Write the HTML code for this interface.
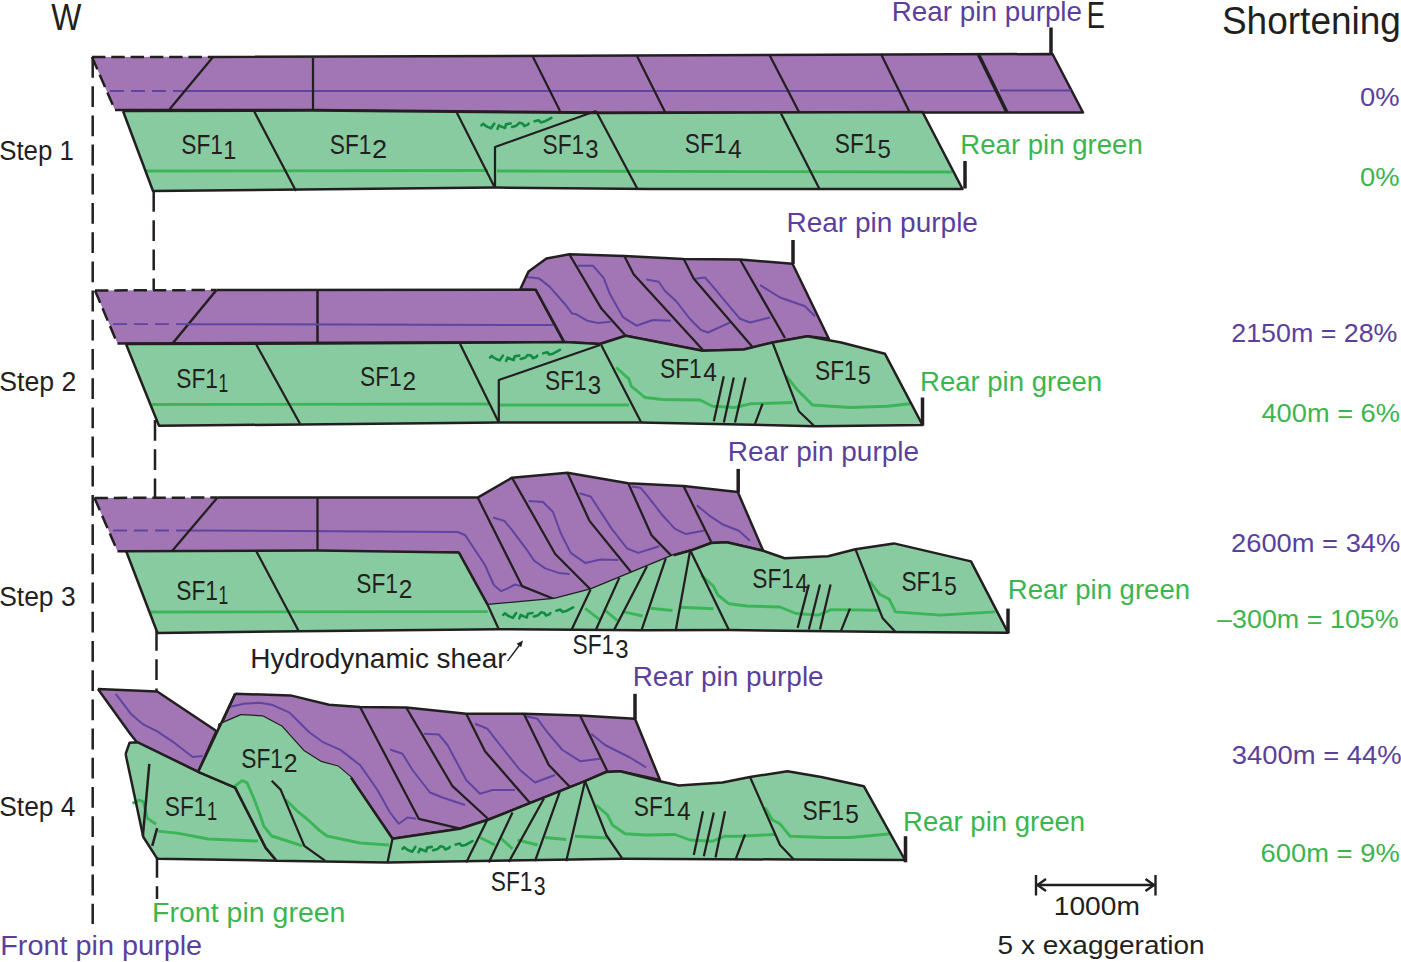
<!DOCTYPE html>
<html><head><meta charset="utf-8"><style>html,body{margin:0;padding:0;background:#fff;overflow:hidden}svg{display:block}</style></head>
<body><svg width="1401" height="962" viewBox="0 0 1401 962" font-family="Liberation Sans, sans-serif">
<rect width="1401" height="962" fill="#fff"/>
<polygon points="92.0,57.0 1052.5,54.0 1083.0,112.5 115.0,110.0" fill="#A275B5"/>
<polyline points="213.0,57.0 1052.5,54.0 1083.0,112.5 600.0,112.5 313.0,110.0 115.0,110.0" fill="none" stroke="#231F20" stroke-width="2.5" stroke-linejoin="round" stroke-linecap="butt"/>
<polyline points="92.0,57.0 213.0,57.0" fill="none" stroke="#231F20" stroke-width="2.5" stroke-linejoin="round" stroke-linecap="butt" stroke-dasharray="13.4,5.9"/>
<polyline points="92.0,57.0 115.0,110.0" fill="none" stroke="#231F20" stroke-width="2.5" stroke-linejoin="round" stroke-linecap="butt" stroke-dasharray="13.4,5.9"/>
<polyline points="110.0,91.0 183.0,91.0" fill="none" stroke="#5F44A0" stroke-width="1.8" stroke-linejoin="round" stroke-linecap="butt" stroke-dasharray="14,7"/>
<polyline points="183.0,91.0 996.0,91.0" fill="none" stroke="#5F44A0" stroke-width="2.0" stroke-linejoin="round" stroke-linecap="butt"/>
<polyline points="1000.0,90.5 1071.0,90.5" fill="none" stroke="#5F44A0" stroke-width="2.0" stroke-linejoin="round" stroke-linecap="butt"/>
<polyline points="213.0,57.0 169.0,110.0" fill="none" stroke="#231F20" stroke-width="2.25" stroke-linejoin="round" stroke-linecap="butt"/>
<polyline points="313.0,58.0 313.0,110.0" fill="none" stroke="#231F20" stroke-width="2.25" stroke-linejoin="round" stroke-linecap="butt"/>
<polyline points="532.5,56.0 560.0,111.0" fill="none" stroke="#231F20" stroke-width="2.25" stroke-linejoin="round" stroke-linecap="butt"/>
<polyline points="637.0,56.0 665.5,113.0" fill="none" stroke="#231F20" stroke-width="2.25" stroke-linejoin="round" stroke-linecap="butt"/>
<polyline points="769.5,55.0 799.0,112.0" fill="none" stroke="#231F20" stroke-width="2.25" stroke-linejoin="round" stroke-linecap="butt"/>
<polyline points="881.0,54.0 909.5,112.0" fill="none" stroke="#231F20" stroke-width="2.25" stroke-linejoin="round" stroke-linecap="butt"/>
<polyline points="978.5,54.5 1007.0,112.5" fill="none" stroke="#231F20" stroke-width="3.6" stroke-linejoin="round" stroke-linecap="butt"/>
<polygon points="123.0,111.0 313.0,110.5 600.0,113.0 922.5,112.0 962.5,189.0 650.0,189.0 495.0,187.5 153.0,191.0" fill="#88CBA0"/>
<polyline points="146.0,171.0 488.0,170.5" fill="none" stroke="#3BB557" stroke-width="2.9" stroke-linejoin="round" stroke-linecap="butt"/>
<polyline points="497.0,171.0 952.0,172.0" fill="none" stroke="#3BB557" stroke-width="2.9" stroke-linejoin="round" stroke-linecap="butt"/>
<polyline points="123.0,111.0 313.0,110.5 600.0,113.0 922.5,112.0 962.5,189.0 650.0,189.0 495.0,187.5 153.0,191.0 123.0,111.0" fill="none" stroke="#231F20" stroke-width="2.5" stroke-linejoin="round" stroke-linecap="butt"/>
<polyline points="254.0,111.0 296.0,191.0" fill="none" stroke="#231F20" stroke-width="2.25" stroke-linejoin="round" stroke-linecap="butt"/>
<polyline points="456.0,111.0 495.0,188.0" fill="none" stroke="#231F20" stroke-width="2.25" stroke-linejoin="round" stroke-linecap="butt"/>
<polyline points="495.0,188.0 495.0,147.0 596.0,111.0" fill="none" stroke="#231F20" stroke-width="2.25" stroke-linejoin="round" stroke-linecap="butt"/>
<polyline points="596.0,111.0 637.5,189.0" fill="none" stroke="#231F20" stroke-width="2.25" stroke-linejoin="round" stroke-linecap="butt"/>
<polyline points="781.0,113.5 819.5,189.0" fill="none" stroke="#231F20" stroke-width="2.25" stroke-linejoin="round" stroke-linecap="butt"/>
<polyline points="1051.0,27.5 1051.0,55.0" fill="none" stroke="#231F20" stroke-width="3.5" stroke-linejoin="round" stroke-linecap="butt"/>
<polyline points="965.0,161.0 965.0,188.5" fill="none" stroke="#231F20" stroke-width="3.5" stroke-linejoin="round" stroke-linecap="butt"/>
<polyline points="481.4,125.4 483.2,123.8 485.0,125.4 487.5,126.9 491.1,128.3 494.3,123.5" fill="none" stroke="#138C43" stroke-width="2.6" stroke-linejoin="round" stroke-linecap="round"/>
<polyline points="497.5,128.8 498.9,125.4 502.1,126.9 505.0,128.0 506.1,124.2 510.7,123.5" fill="none" stroke="#138C43" stroke-width="2.6" stroke-linejoin="round" stroke-linecap="round"/>
<polyline points="512.1,126.9 516.4,125.7 519.3,122.8 522.5,123.5 524.3,126.1 527.9,124.6 528.6,123.5" fill="none" stroke="#138C43" stroke-width="2.6" stroke-linejoin="round" stroke-linecap="round"/>
<polyline points="534.6,121.2 538.6,120.2 540.7,122.4 544.3,121.6 551.4,117.8" fill="none" stroke="#138C43" stroke-width="2.6" stroke-linejoin="round" stroke-linecap="round"/>
<polygon points="95.0,290.5 216.5,290.0 535.7,289.7 564.0,342.1 117.5,343.5" fill="#A275B5"/>
<polyline points="216.5,290.0 535.7,289.7 564.0,342.1 117.5,343.5" fill="none" stroke="#231F20" stroke-width="2.5" stroke-linejoin="round" stroke-linecap="butt"/>
<polyline points="95.0,290.5 216.5,290.0" fill="none" stroke="#231F20" stroke-width="2.5" stroke-linejoin="round" stroke-linecap="butt" stroke-dasharray="13.4,5.9"/>
<polyline points="95.0,290.5 117.5,343.8" fill="none" stroke="#231F20" stroke-width="2.5" stroke-linejoin="round" stroke-linecap="butt" stroke-dasharray="13.4,5.9"/>
<polyline points="216.5,290.0 172.5,343.5" fill="none" stroke="#231F20" stroke-width="2.5" stroke-linejoin="round" stroke-linecap="butt"/>
<polyline points="317.5,290.5 317.5,343.0" fill="none" stroke="#231F20" stroke-width="2.5" stroke-linejoin="round" stroke-linecap="butt"/>
<polyline points="113.0,324.2 187.0,324.2" fill="none" stroke="#5F44A0" stroke-width="1.8" stroke-linejoin="round" stroke-linecap="butt" stroke-dasharray="14,7"/>
<polyline points="187.0,324.2 555.0,325.0" fill="none" stroke="#5F44A0" stroke-width="2.0" stroke-linejoin="round" stroke-linecap="butt"/>
<polygon points="520.3,289.3 528.6,271.4 546.4,258.6 569.3,254.3 624.3,256.0 683.7,259.0 740.0,259.5 792.5,263.8 828.8,338.8 807.5,336.2 772.5,342.5 743.8,349.5 702.5,350.8 625.7,335.7 600.0,344.0 564.3,342.1 535.7,289.7" fill="#A275B5"/>
<polyline points="527.0,277.1 539.3,278.6 549.3,286.4 565.7,305.0 572.1,313.6 576.4,314.3 587.1,320.7 597.9,322.9 610.7,321.7" fill="none" stroke="#5F44A0" stroke-width="2.0" stroke-linejoin="round" stroke-linecap="butt"/>
<polyline points="577.9,265.7 592.9,265.7 603.6,277.9 610.0,294.3 622.9,317.1 636.4,325.7 652.9,320.0 670.7,320.7" fill="none" stroke="#5F44A0" stroke-width="2.0" stroke-linejoin="round" stroke-linecap="butt"/>
<polyline points="646.3,279.4 658.7,281.7 665.0,291.0 676.0,301.0 690.0,319.0 701.0,330.0 708.0,332.5 730.0,322.5" fill="none" stroke="#5F44A0" stroke-width="2.0" stroke-linejoin="round" stroke-linecap="butt"/>
<polyline points="695.0,278.8 705.0,277.5 712.5,286.2 740.0,318.8 750.0,322.5 770.0,317.5" fill="none" stroke="#5F44A0" stroke-width="2.0" stroke-linejoin="round" stroke-linecap="butt"/>
<polyline points="760.0,285.0 780.0,297.5 805.0,306.2 815.0,316.2" fill="none" stroke="#5F44A0" stroke-width="2.0" stroke-linejoin="round" stroke-linecap="butt"/>
<polyline points="520.3,289.3 528.6,271.4 546.4,258.6 569.3,254.3 624.3,256.0 683.7,259.0 740.0,259.5 792.5,263.8 828.8,338.8 807.5,336.2 772.5,342.5 743.8,349.5 702.5,350.8 625.7,335.7 600.0,344.0 564.3,342.1 535.7,289.7 520.3,289.3" fill="none" stroke="#231F20" stroke-width="2.5" stroke-linejoin="round" stroke-linecap="butt"/>
<polyline points="569.3,254.3 601.4,308.6 625.0,335.0" fill="none" stroke="#231F20" stroke-width="2.25" stroke-linejoin="round" stroke-linecap="butt"/>
<polyline points="624.3,256.0 633.6,274.3 702.9,350.0" fill="none" stroke="#231F20" stroke-width="2.25" stroke-linejoin="round" stroke-linecap="butt"/>
<polyline points="683.7,259.0 693.8,278.8 752.5,347.0" fill="none" stroke="#231F20" stroke-width="2.25" stroke-linejoin="round" stroke-linecap="butt"/>
<polyline points="740.0,259.5 785.0,338.0" fill="none" stroke="#231F20" stroke-width="2.25" stroke-linejoin="round" stroke-linecap="butt"/>
<polygon points="126.0,344.0 317.5,343.5 564.3,342.1 600.0,344.0 625.7,335.7 702.5,350.8 743.8,349.5 772.5,342.5 807.5,336.2 841.2,342.5 885.0,353.8 922.5,425.0 815.0,426.2 640.0,422.5 498.8,422.5 159.0,425.8" fill="#88CBA0"/>
<polyline points="152.0,404.5 489.0,404.0" fill="none" stroke="#3BB557" stroke-width="2.9" stroke-linejoin="round" stroke-linecap="butt"/>
<polyline points="499.0,405.0 629.0,405.0" fill="none" stroke="#3BB557" stroke-width="2.9" stroke-linejoin="round" stroke-linecap="butt"/>
<polyline points="616.2,367.5 628.8,378.8 631.2,386.2 645.0,397.5 662.5,399.5 700.0,400.0 712.5,406.2 735.0,407.5 750.0,403.8 792.5,402.5" fill="none" stroke="#3BB557" stroke-width="2.9" stroke-linejoin="round" stroke-linecap="butt"/>
<polyline points="786.2,376.2 797.5,390.0 805.0,397.5 812.5,405.0 850.0,407.5 887.5,406.2 910.0,403.8" fill="none" stroke="#3BB557" stroke-width="2.9" stroke-linejoin="round" stroke-linecap="butt"/>
<polyline points="126.0,344.0 317.5,343.5 564.3,342.1 600.0,344.0 625.7,335.7 702.5,350.8 743.8,349.5 772.5,342.5 807.5,336.2 841.2,342.5 885.0,353.8 922.5,425.0 815.0,426.2 640.0,422.5 498.8,422.5 159.0,425.8 126.0,344.0" fill="none" stroke="#231F20" stroke-width="2.5" stroke-linejoin="round" stroke-linecap="butt"/>
<polyline points="256.0,344.0 300.0,423.8" fill="none" stroke="#231F20" stroke-width="2.25" stroke-linejoin="round" stroke-linecap="butt"/>
<polyline points="460.0,343.8 498.8,422.5" fill="none" stroke="#231F20" stroke-width="2.25" stroke-linejoin="round" stroke-linecap="butt"/>
<polyline points="498.8,422.5 498.8,380.0 600.0,345.0" fill="none" stroke="#231F20" stroke-width="2.25" stroke-linejoin="round" stroke-linecap="butt"/>
<polyline points="601.2,345.0 641.2,422.5" fill="none" stroke="#231F20" stroke-width="2.25" stroke-linejoin="round" stroke-linecap="butt"/>
<polyline points="772.5,342.5 798.8,411.2 813.8,425.5" fill="none" stroke="#231F20" stroke-width="2.25" stroke-linejoin="round" stroke-linecap="butt"/>
<polyline points="723.8,376.2 713.8,421.2" fill="none" stroke="#231F20" stroke-width="2.25" stroke-linejoin="round" stroke-linecap="butt"/>
<polyline points="733.8,377.5 723.8,422.5" fill="none" stroke="#231F20" stroke-width="2.25" stroke-linejoin="round" stroke-linecap="butt"/>
<polyline points="745.5,377.5 735.0,422.5" fill="none" stroke="#231F20" stroke-width="2.25" stroke-linejoin="round" stroke-linecap="butt"/>
<polyline points="762.5,403.8 755.0,423.8" fill="none" stroke="#231F20" stroke-width="2.25" stroke-linejoin="round" stroke-linecap="butt"/>
<polyline points="490.0,357.5 491.8,355.9 493.6,357.5 496.1,359.0 499.7,360.4 502.9,355.6" fill="none" stroke="#138C43" stroke-width="2.6" stroke-linejoin="round" stroke-linecap="round"/>
<polyline points="506.1,360.9 507.5,357.5 510.7,359.0 513.6,360.1 514.7,356.3 519.3,355.6" fill="none" stroke="#138C43" stroke-width="2.6" stroke-linejoin="round" stroke-linecap="round"/>
<polyline points="520.7,359.0 525.0,357.8 527.9,354.9 531.1,355.6 532.9,358.2 536.5,356.7 537.2,355.6" fill="none" stroke="#138C43" stroke-width="2.6" stroke-linejoin="round" stroke-linecap="round"/>
<polyline points="543.2,353.3 547.2,352.2 549.3,354.5 552.9,353.7 560.0,349.9" fill="none" stroke="#138C43" stroke-width="2.6" stroke-linejoin="round" stroke-linecap="round"/>
<polyline points="793.0,240.0 793.0,264.0" fill="none" stroke="#231F20" stroke-width="3.5" stroke-linejoin="round" stroke-linecap="butt"/>
<polyline points="922.5,397.5 922.5,425.5" fill="none" stroke="#231F20" stroke-width="3.5" stroke-linejoin="round" stroke-linecap="butt"/>
<polygon points="94.5,498.0 217.5,497.5 477.7,497.6 512.0,477.7 567.4,472.8 628.2,483.2 683.5,486.1 737.8,492.1 763.2,550.7 726.7,542.3 711.2,543.0 691.3,550.3 673.6,555.2 590.6,589.5 554.1,599.0 487.7,605.0 458.8,552.5 117.5,551.2" fill="#A275B5"/>
<polyline points="113.0,530.5 190.0,530.5" fill="none" stroke="#5F44A0" stroke-width="1.8" stroke-linejoin="round" stroke-linecap="butt" stroke-dasharray="14,7"/>
<polyline points="190.0,530.5 457.5,532.0 465.0,535.0 475.0,550.0 485.0,565.0 493.8,585.0 501.2,591.2 508.7,587.9 515.0,584.5 520.9,586.1" fill="none" stroke="#5F44A0" stroke-width="2.0" stroke-linejoin="round" stroke-linecap="butt"/>
<polyline points="493.2,517.5 504.3,520.9 510.9,528.6 527.5,550.7 534.2,560.7 545.2,568.4 558.5,572.9 569.6,574.0" fill="none" stroke="#5F44A0" stroke-width="2.0" stroke-linejoin="round" stroke-linecap="butt"/>
<polyline points="528.6,500.9 543.0,502.0 553.0,512.0 560.7,533.0 570.7,552.9 585.1,562.9 600.6,559.6 618.3,560.0" fill="none" stroke="#5F44A0" stroke-width="2.0" stroke-linejoin="round" stroke-linecap="butt"/>
<polyline points="579.5,493.2 590.6,496.5 597.2,506.5 611.6,528.6 627.1,548.5 638.2,552.9 659.2,546.3" fill="none" stroke="#5F44A0" stroke-width="2.0" stroke-linejoin="round" stroke-linecap="butt"/>
<polyline points="631.5,486.6 640.4,487.7 647.0,495.4 662.5,515.3 674.7,528.6 685.8,534.1 704.6,530.4" fill="none" stroke="#5F44A0" stroke-width="2.0" stroke-linejoin="round" stroke-linecap="butt"/>
<polyline points="696.8,505.4 709.0,515.3 722.3,524.2 738.9,530.8 749.9,540.8" fill="none" stroke="#5F44A0" stroke-width="2.0" stroke-linejoin="round" stroke-linecap="butt"/>
<polyline points="217.5,497.5 477.7,497.6 512.0,477.7 567.4,472.8 628.2,483.2 683.5,486.1 737.8,492.1 763.2,550.7 726.7,542.3 711.2,543.0 691.3,550.3 673.6,555.2 590.6,589.5 554.1,599.0 487.7,605.0 458.8,552.5 117.5,551.2" fill="none" stroke="#231F20" stroke-width="2.5" stroke-linejoin="round" stroke-linecap="butt"/>
<polyline points="94.5,498.0 217.5,497.5" fill="none" stroke="#231F20" stroke-width="2.5" stroke-linejoin="round" stroke-linecap="butt" stroke-dasharray="13.4,5.9"/>
<polyline points="94.5,498.0 117.5,551.2" fill="none" stroke="#231F20" stroke-width="2.5" stroke-linejoin="round" stroke-linecap="butt" stroke-dasharray="13.4,5.9"/>
<polyline points="217.5,497.5 172.5,550.5" fill="none" stroke="#231F20" stroke-width="2.25" stroke-linejoin="round" stroke-linecap="butt"/>
<polyline points="317.5,498.0 317.5,550.5" fill="none" stroke="#231F20" stroke-width="2.25" stroke-linejoin="round" stroke-linecap="butt"/>
<polyline points="477.7,497.6 522.0,586.1 554.1,599.0" fill="none" stroke="#231F20" stroke-width="2.25" stroke-linejoin="round" stroke-linecap="butt"/>
<polyline points="512.0,477.7 555.2,554.0 590.6,589.5" fill="none" stroke="#231F20" stroke-width="2.25" stroke-linejoin="round" stroke-linecap="butt"/>
<polyline points="567.4,472.8 589.5,520.9 632.6,574.0" fill="none" stroke="#231F20" stroke-width="2.25" stroke-linejoin="round" stroke-linecap="butt"/>
<polyline points="628.2,483.2 651.5,535.2 672.5,556.9" fill="none" stroke="#231F20" stroke-width="2.25" stroke-linejoin="round" stroke-linecap="butt"/>
<polyline points="683.5,486.1 711.2,541.9" fill="none" stroke="#231F20" stroke-width="2.25" stroke-linejoin="round" stroke-linecap="butt"/>
<polygon points="126.2,551.2 317.5,550.5 458.8,552.5 487.7,605.0 554.1,599.0 590.6,589.5 673.6,555.2 691.3,550.3 711.2,543.0 726.7,542.3 763.2,550.7 784.7,558.2 828.1,556.3 855.4,549.2 893.9,543.4 971.0,561.4 1008.0,632.7 895.5,632.1 728.9,630.0 641.8,630.2 498.8,629.3 298.8,631.2 157.5,633.0" fill="#88CBA0"/>
<polyline points="151.0,612.0 487.7,611.6" fill="none" stroke="#3BB557" stroke-width="2.9" stroke-linejoin="round" stroke-linecap="butt"/>
<polyline points="585.1,608.3 599.5,619.3" fill="none" stroke="#3BB557" stroke-width="2.9" stroke-linejoin="round" stroke-linecap="butt"/>
<polyline points="603.9,609.4 617.2,620.4" fill="none" stroke="#3BB557" stroke-width="2.9" stroke-linejoin="round" stroke-linecap="butt"/>
<polyline points="622.7,611.6 642.6,616.0" fill="none" stroke="#3BB557" stroke-width="2.9" stroke-linejoin="round" stroke-linecap="butt"/>
<polyline points="650.4,608.3 672.5,610.5" fill="none" stroke="#3BB557" stroke-width="2.9" stroke-linejoin="round" stroke-linecap="butt"/>
<polyline points="680.2,607.2 713.4,608.7" fill="none" stroke="#3BB557" stroke-width="2.9" stroke-linejoin="round" stroke-linecap="butt"/>
<polyline points="701.2,575.1 713.4,586.1 717.8,595.0 728.9,603.8 746.6,606.0 779.9,607.0 795.9,613.5 818.4,615.1 831.3,609.6 879.5,610.3" fill="none" stroke="#3BB557" stroke-width="2.9" stroke-linejoin="round" stroke-linecap="butt"/>
<polyline points="869.8,581.3 879.5,594.2 889.1,599.0 895.5,611.9 940.5,615.1 995.1,611.9" fill="none" stroke="#3BB557" stroke-width="2.9" stroke-linejoin="round" stroke-linecap="butt"/>
<polyline points="673.6,555.2 691.3,550.3 711.2,543.0 726.7,542.3 763.2,550.7 784.7,558.2 828.1,556.3 855.4,549.2 893.9,543.4 971.0,561.4 1008.0,632.7 895.5,632.1 728.9,630.0 641.8,630.2 498.8,629.3 298.8,631.2 157.5,633.0 126.2,551.2 317.5,550.5 458.8,552.5" fill="none" stroke="#231F20" stroke-width="2.5" stroke-linejoin="round" stroke-linecap="butt"/>
<polyline points="458.8,552.5 487.7,605.0" fill="none" stroke="#231F20" stroke-width="2.5" stroke-linejoin="round" stroke-linecap="butt"/>
<polyline points="256.2,551.0 298.8,631.2" fill="none" stroke="#231F20" stroke-width="2.25" stroke-linejoin="round" stroke-linecap="butt"/>
<polyline points="487.7,605.0 498.8,629.3" fill="none" stroke="#231F20" stroke-width="2.25" stroke-linejoin="round" stroke-linecap="butt"/>
<polyline points="590.6,589.5 571.8,629.3" fill="none" stroke="#231F20" stroke-width="2.25" stroke-linejoin="round" stroke-linecap="butt"/>
<polyline points="619.4,577.6 596.1,629.3" fill="none" stroke="#231F20" stroke-width="2.25" stroke-linejoin="round" stroke-linecap="butt"/>
<polyline points="647.0,566.2 613.8,630.4" fill="none" stroke="#231F20" stroke-width="2.25" stroke-linejoin="round" stroke-linecap="butt"/>
<polyline points="665.8,558.4 641.5,630.4" fill="none" stroke="#231F20" stroke-width="2.25" stroke-linejoin="round" stroke-linecap="butt"/>
<polyline points="690.2,550.3 675.8,630.0" fill="none" stroke="#231F20" stroke-width="2.25" stroke-linejoin="round" stroke-linecap="butt"/>
<polyline points="690.2,550.3 728.9,630.0" fill="none" stroke="#231F20" stroke-width="2.25" stroke-linejoin="round" stroke-linecap="butt"/>
<polyline points="855.4,549.2 882.7,618.3 895.5,632.1" fill="none" stroke="#231F20" stroke-width="2.25" stroke-linejoin="round" stroke-linecap="butt"/>
<polyline points="808.8,584.6 797.6,627.9" fill="none" stroke="#231F20" stroke-width="2.25" stroke-linejoin="round" stroke-linecap="butt"/>
<polyline points="820.0,584.6 808.8,629.5" fill="none" stroke="#231F20" stroke-width="2.25" stroke-linejoin="round" stroke-linecap="butt"/>
<polyline points="830.6,584.6 820.0,629.5" fill="none" stroke="#231F20" stroke-width="2.25" stroke-linejoin="round" stroke-linecap="butt"/>
<polyline points="849.9,608.6 840.9,631.1" fill="none" stroke="#231F20" stroke-width="2.25" stroke-linejoin="round" stroke-linecap="butt"/>
<polyline points="503.2,614.9 505.0,613.3 506.8,614.9 509.3,616.4 512.9,617.8 516.1,613.0" fill="none" stroke="#138C43" stroke-width="2.6" stroke-linejoin="round" stroke-linecap="round"/>
<polyline points="519.3,618.3 520.7,614.9 523.9,616.4 526.8,617.5 527.9,613.7 532.5,613.0" fill="none" stroke="#138C43" stroke-width="2.6" stroke-linejoin="round" stroke-linecap="round"/>
<polyline points="533.9,616.4 538.2,615.2 541.1,612.3 544.3,613.0 546.1,615.6 549.7,614.1 550.4,613.0" fill="none" stroke="#138C43" stroke-width="2.6" stroke-linejoin="round" stroke-linecap="round"/>
<polyline points="556.4,610.7 560.4,609.6 562.5,611.9 566.1,611.1 573.2,607.3" fill="none" stroke="#138C43" stroke-width="2.6" stroke-linejoin="round" stroke-linecap="round"/>
<polyline points="738.2,468.9 738.2,492.5" fill="none" stroke="#231F20" stroke-width="3.5" stroke-linejoin="round" stroke-linecap="butt"/>
<polyline points="1008.0,608.6 1008.0,633.2" fill="none" stroke="#231F20" stroke-width="3.5" stroke-linejoin="round" stroke-linecap="butt"/>
<polyline points="507.5,661.2 521.5,642.5" fill="none" stroke="#231F20" stroke-width="1.4" stroke-linejoin="round" stroke-linecap="butt"/>
<polygon points="523,640.5 516.5,643.8 521.2,647.2" fill="#231F20"/>
<polygon points="97.9,688.9 157.2,691.5 216.4,731.0 198.2,771.8 137.4,742.8 130.5,734.3" fill="#A275B5"/>
<polyline points="115.7,693.8 131.5,714.6 143.3,724.4 157.2,731.4 174.9,743.2 192.7,757.0 202.6,756.0" fill="none" stroke="#5F44A0" stroke-width="2.0" stroke-linejoin="round" stroke-linecap="butt"/>
<polyline points="97.9,688.9 157.2,691.5 216.4,731.0 198.2,771.8 137.4,742.8 130.5,734.3 97.9,688.9" fill="none" stroke="#231F20" stroke-width="2.5" stroke-linejoin="round" stroke-linecap="butt"/>
<polygon points="235.2,693.8 290.5,695.4 329.0,704.7 360.0,707.0 406.2,707.5 466.2,713.8 523.8,713.8 580.0,715.5 635.0,718.8 660.0,780.0 620.0,771.2 606.2,772.0 585.0,781.2 488.8,819.5 460.0,828.8 392.5,838.8 351.0,777.6 338.0,766.6 321.0,762.0 303.6,751.0 281.6,726.6 262.8,716.5 241.1,715.2 219.4,724.4 218.4,730.4" fill="#A275B5"/>
<polyline points="230.2,706.7 244.1,703.7 259.9,702.7 271.7,704.7 289.5,712.6 299.4,722.5 309.2,732.3 323.1,742.2 340.8,750.1 360.0,765.0 377.5,790.0 390.0,812.5 398.8,823.8 407.5,817.5 416.2,818.8" fill="none" stroke="#5F44A0" stroke-width="2.0" stroke-linejoin="round" stroke-linecap="butt"/>
<polyline points="390.0,749.5 402.5,753.8 412.5,770.0 430.0,792.5 442.5,797.5 465.0,805.0" fill="none" stroke="#5F44A0" stroke-width="2.0" stroke-linejoin="round" stroke-linecap="butt"/>
<polyline points="423.8,733.8 438.8,734.5 447.5,745.0 466.2,780.0 480.0,793.8 492.5,790.0 515.0,790.0" fill="none" stroke="#5F44A0" stroke-width="2.0" stroke-linejoin="round" stroke-linecap="butt"/>
<polyline points="475.0,723.8 487.5,728.8 500.0,745.0 520.0,770.0 535.0,782.5 555.0,775.0" fill="none" stroke="#5F44A0" stroke-width="2.0" stroke-linejoin="round" stroke-linecap="butt"/>
<polyline points="526.2,716.2 537.5,718.8 547.5,732.5 562.5,750.0 580.0,761.2 600.0,758.8" fill="none" stroke="#5F44A0" stroke-width="2.0" stroke-linejoin="round" stroke-linecap="butt"/>
<polyline points="591.2,733.8 605.0,745.0 630.0,757.5 646.2,767.5" fill="none" stroke="#5F44A0" stroke-width="2.0" stroke-linejoin="round" stroke-linecap="butt"/>
<polyline points="235.2,693.8 290.5,695.4 329.0,704.7 360.0,707.0 406.2,707.5 466.2,713.8 523.8,713.8 580.0,715.5 635.0,718.8 660.0,780.0 620.0,771.2 606.2,772.0 585.0,781.2 488.8,819.5 460.0,828.8 392.5,838.8 351.0,777.6 338.0,766.6 321.0,762.0 303.6,751.0 281.6,726.6 262.8,716.5 241.1,715.2 219.4,724.4 218.4,730.4 235.2,693.8" fill="none" stroke="#231F20" stroke-width="2.5" stroke-linejoin="round" stroke-linecap="butt"/>
<polyline points="360.0,707.0 418.8,818.8 461.2,828.8" fill="none" stroke="#231F20" stroke-width="2.25" stroke-linejoin="round" stroke-linecap="butt"/>
<polyline points="406.2,707.5 452.5,786.2 488.8,819.5" fill="none" stroke="#231F20" stroke-width="2.25" stroke-linejoin="round" stroke-linecap="butt"/>
<polyline points="466.2,713.8 485.0,751.2 530.0,803.0" fill="none" stroke="#231F20" stroke-width="2.25" stroke-linejoin="round" stroke-linecap="butt"/>
<polyline points="523.8,713.8 548.8,765.0 570.0,787.0" fill="none" stroke="#231F20" stroke-width="2.25" stroke-linejoin="round" stroke-linecap="butt"/>
<polyline points="580.0,715.5 607.5,771.5" fill="none" stroke="#231F20" stroke-width="2.25" stroke-linejoin="round" stroke-linecap="butt"/>
<polygon points="125.6,754.1 129.5,742.8 137.4,742.2 198.2,771.8 235.2,787.6 265.8,847.9 276.6,860.7 157.2,858.7 143.3,837.0" fill="#88CBA0"/>
<polyline points="132.5,803.4 139.4,800.1 143.3,801.5 147.3,818.3 156.2,824.2" fill="none" stroke="#3BB557" stroke-width="2.9" stroke-linejoin="round" stroke-linecap="butt"/>
<polyline points="158.1,831.1 176.9,833.1 208.5,839.0 232.2,840.0 257.9,841.0" fill="none" stroke="#3BB557" stroke-width="2.9" stroke-linejoin="round" stroke-linecap="butt"/>
<polyline points="125.6,754.1 129.5,742.8 137.4,742.2 198.2,771.8 235.2,787.6 265.8,847.9 276.6,860.7 157.2,858.7 143.3,837.0 125.6,754.1" fill="none" stroke="#231F20" stroke-width="2.5" stroke-linejoin="round" stroke-linecap="butt"/>
<polyline points="149.3,763.9 142.9,836.0" fill="none" stroke="#231F20" stroke-width="2.5" stroke-linejoin="round" stroke-linecap="butt"/>
<polyline points="157.2,828.1 152.2,845.9" fill="none" stroke="#231F20" stroke-width="2.5" stroke-linejoin="round" stroke-linecap="butt"/>
<polygon points="198.2,771.8 218.4,730.4 219.4,724.4 241.1,715.2 262.8,716.5 281.6,726.6 303.6,751.0 321.0,762.0 338.0,766.6 351.0,777.6 392.5,838.8 460.0,828.8 488.8,819.5 585.0,781.2 606.2,772.0 620.0,771.2 660.0,781.2 678.8,785.5 722.5,782.5 750.0,777.0 787.5,771.2 821.2,777.0 863.8,786.2 905.0,860.0 792.5,859.5 622.5,858.8 387.5,862.5 276.6,860.7 265.8,847.9 235.2,787.6" fill="#88CBA0"/>
<polyline points="234.2,786.7 242.1,780.7 247.0,782.7 253.9,798.5 259.9,814.3 263.8,826.2 271.7,836.0 287.5,841.0 302.3,845.9" fill="none" stroke="#3BB557" stroke-width="2.9" stroke-linejoin="round" stroke-linecap="butt"/>
<polyline points="285.5,799.5 297.4,811.3 307.3,819.2 319.1,830.1 327.0,836.0 360.0,843.0 388.8,845.0" fill="none" stroke="#3BB557" stroke-width="2.9" stroke-linejoin="round" stroke-linecap="butt"/>
<polyline points="480.0,837.5 495.0,845.0" fill="none" stroke="#3BB557" stroke-width="2.9" stroke-linejoin="round" stroke-linecap="butt"/>
<polyline points="500.0,837.5 512.5,848.8" fill="none" stroke="#3BB557" stroke-width="2.9" stroke-linejoin="round" stroke-linecap="butt"/>
<polyline points="517.5,840.0 537.5,845.0" fill="none" stroke="#3BB557" stroke-width="2.9" stroke-linejoin="round" stroke-linecap="butt"/>
<polyline points="545.0,837.5 566.2,839.5" fill="none" stroke="#3BB557" stroke-width="2.9" stroke-linejoin="round" stroke-linecap="butt"/>
<polyline points="575.0,836.2 607.5,838.0" fill="none" stroke="#3BB557" stroke-width="2.9" stroke-linejoin="round" stroke-linecap="butt"/>
<polyline points="596.2,805.0 607.5,815.0 612.5,825.0 625.0,833.8 645.0,835.0 675.0,834.5 690.0,840.0 712.5,841.2 725.0,836.2 740.0,836.2 775.0,834.5" fill="none" stroke="#3BB557" stroke-width="2.9" stroke-linejoin="round" stroke-linecap="butt"/>
<polyline points="765.0,807.5 772.5,820.0 780.0,823.8 790.0,836.2 825.0,837.5 850.0,837.5 891.2,833.8" fill="none" stroke="#3BB557" stroke-width="2.9" stroke-linejoin="round" stroke-linecap="butt"/>
<polyline points="351.0,777.6 392.5,838.8 460.0,828.8 488.8,819.5 585.0,781.2 606.2,772.0 620.0,771.2 660.0,781.2 678.8,785.5 722.5,782.5 750.0,777.0 787.5,771.2 821.2,777.0 863.8,786.2 905.0,860.0 792.5,859.5 622.5,858.8 387.5,862.5 276.6,860.7 265.8,847.9 235.2,787.6 198.2,771.8" fill="none" stroke="#231F20" stroke-width="2.5" stroke-linejoin="round" stroke-linecap="butt"/>
<polyline points="235.2,693.8 198.2,771.8" fill="none" stroke="#231F20" stroke-width="2.5" stroke-linejoin="round" stroke-linecap="butt"/>
<polyline points="392.5,838.8 387.5,862.5" fill="none" stroke="#231F20" stroke-width="2.25" stroke-linejoin="round" stroke-linecap="butt"/>
<polyline points="487.5,819.5 466.2,862.5" fill="none" stroke="#231F20" stroke-width="2.25" stroke-linejoin="round" stroke-linecap="butt"/>
<polyline points="512.5,812.5 488.8,862.5" fill="none" stroke="#231F20" stroke-width="2.25" stroke-linejoin="round" stroke-linecap="butt"/>
<polyline points="543.8,798.8 508.8,862.0" fill="none" stroke="#231F20" stroke-width="2.25" stroke-linejoin="round" stroke-linecap="butt"/>
<polyline points="560.0,791.2 535.0,861.2" fill="none" stroke="#231F20" stroke-width="2.25" stroke-linejoin="round" stroke-linecap="butt"/>
<polyline points="585.0,781.2 566.2,861.2" fill="none" stroke="#231F20" stroke-width="2.25" stroke-linejoin="round" stroke-linecap="butt"/>
<polyline points="585.0,781.2 606.2,835.0 622.5,858.8" fill="none" stroke="#231F20" stroke-width="2.25" stroke-linejoin="round" stroke-linecap="butt"/>
<polyline points="750.0,777.0 780.0,845.0 793.8,859.5" fill="none" stroke="#231F20" stroke-width="2.25" stroke-linejoin="round" stroke-linecap="butt"/>
<polyline points="703.0,811.2 693.8,855.0" fill="none" stroke="#231F20" stroke-width="2.25" stroke-linejoin="round" stroke-linecap="butt"/>
<polyline points="713.8,812.5 703.8,856.2" fill="none" stroke="#231F20" stroke-width="2.25" stroke-linejoin="round" stroke-linecap="butt"/>
<polyline points="725.0,811.2 715.5,857.5" fill="none" stroke="#231F20" stroke-width="2.25" stroke-linejoin="round" stroke-linecap="butt"/>
<polyline points="745.0,834.5 735.8,858.8" fill="none" stroke="#231F20" stroke-width="2.25" stroke-linejoin="round" stroke-linecap="butt"/>
<polyline points="271.7,780.7 280.6,789.6 304.3,845.9 325.0,860.7" fill="none" stroke="#231F20" stroke-width="2.25" stroke-linejoin="round" stroke-linecap="butt"/>
<polyline points="402.5,848.8 404.3,847.2 406.1,848.8 408.6,850.3 412.2,851.7 415.4,846.9" fill="none" stroke="#138C43" stroke-width="2.6" stroke-linejoin="round" stroke-linecap="round"/>
<polyline points="418.6,852.2 420.0,848.8 423.2,850.3 426.1,851.4 427.2,847.6 431.8,846.9" fill="none" stroke="#138C43" stroke-width="2.6" stroke-linejoin="round" stroke-linecap="round"/>
<polyline points="433.2,850.3 437.5,849.1 440.4,846.2 443.6,846.9 445.4,849.5 449.0,848.0 449.7,846.9" fill="none" stroke="#138C43" stroke-width="2.6" stroke-linejoin="round" stroke-linecap="round"/>
<polyline points="455.7,844.6 459.7,843.5 461.8,845.8 465.4,845.0 472.5,841.2" fill="none" stroke="#138C43" stroke-width="2.6" stroke-linejoin="round" stroke-linecap="round"/>
<polyline points="635.0,693.8 635.0,719.0" fill="none" stroke="#231F20" stroke-width="3.5" stroke-linejoin="round" stroke-linecap="butt"/>
<polyline points="905.5,836.2 905.5,862.3" fill="none" stroke="#231F20" stroke-width="3.5" stroke-linejoin="round" stroke-linecap="butt"/>
<polyline points="92.7,57.0 92.7,924.0" fill="none" stroke="#231F20" stroke-width="2.5" stroke-linejoin="round" stroke-linecap="butt" stroke-dasharray="20.8,8.4"/>
<polyline points="153.7,191.0 153.7,290.0" fill="none" stroke="#231F20" stroke-width="2.5" stroke-linejoin="round" stroke-linecap="butt" stroke-dasharray="20.8,8.4"/>
<polyline points="155.0,420.0 155.0,497.0" fill="none" stroke="#231F20" stroke-width="2.5" stroke-linejoin="round" stroke-linecap="butt" stroke-dasharray="20.8,8.4"/>
<polyline points="156.5,630.0 156.5,691.5" fill="none" stroke="#231F20" stroke-width="2.5" stroke-linejoin="round" stroke-linecap="butt" stroke-dasharray="20.8,8.4"/>
<polyline points="157.0,857.0 157.0,899.0" fill="none" stroke="#231F20" stroke-width="2.5" stroke-linejoin="round" stroke-linecap="butt" stroke-dasharray="20.8,8.4"/>
<polyline points="1036.0,885.0 1155.5,885.0" fill="none" stroke="#231F20" stroke-width="2.4" stroke-linejoin="round" stroke-linecap="butt"/>
<polyline points="1036.0,875.0 1036.0,895.5" fill="none" stroke="#231F20" stroke-width="2.4" stroke-linejoin="round" stroke-linecap="butt"/>
<polyline points="1155.5,875.0 1155.5,895.5" fill="none" stroke="#231F20" stroke-width="2.4" stroke-linejoin="round" stroke-linecap="butt"/>
<polyline points="1046.0,879.0 1037.5,885.0 1046.0,891.0" fill="none" stroke="#231F20" stroke-width="2.4" stroke-linejoin="round" stroke-linecap="butt"/>
<polyline points="1145.5,879.0 1154.0,885.0 1145.5,891.0" fill="none" stroke="#231F20" stroke-width="2.4" stroke-linejoin="round" stroke-linecap="butt"/>
<g font-family="Liberation Sans, sans-serif">
<text x="51.20" y="29.50" font-size="37.3" fill="#231F20" textLength="30.12" lengthAdjust="spacingAndGlyphs">W</text>
<text x="1086.82" y="27.50" font-size="36.2" fill="#231F20" textLength="18.19" lengthAdjust="spacingAndGlyphs">E</text>
<text x="1221.95" y="34.30" font-size="38.5" fill="#231F20" textLength="179.03" lengthAdjust="spacingAndGlyphs">Shortening</text>
<text x="891.77" y="21.25" font-size="27.5" fill="#5C3F9C" textLength="190.27" lengthAdjust="spacingAndGlyphs">Rear pin purple</text>
<text x="1359.91" y="106.00" font-size="26.7" fill="#5C3F9C" textLength="39.56" lengthAdjust="spacingAndGlyphs">0%</text>
<text x="1359.91" y="185.70" font-size="26.7" fill="#3DB54F" textLength="39.56" lengthAdjust="spacingAndGlyphs">0%</text>
<text x="960.29" y="154.00" font-size="27.5" fill="#3DB54F" textLength="182.51" lengthAdjust="spacingAndGlyphs">Rear pin green</text>
<text x="-0.79" y="160.00" font-size="27.5" fill="#231F20" textLength="74.61" lengthAdjust="spacingAndGlyphs">Step 1</text>
<text x="181.36" y="153.75" font-size="27" fill="#231F20" textLength="41.64" lengthAdjust="spacingAndGlyphs">SF1</text>
<text x="223.14" y="158.75" font-size="25" fill="#231F20" textLength="12.94" lengthAdjust="spacingAndGlyphs">1</text>
<text x="329.86" y="153.75" font-size="27" fill="#231F20" textLength="41.64" lengthAdjust="spacingAndGlyphs">SF1</text>
<text x="372.14" y="157.50" font-size="25" fill="#231F20" textLength="15.12" lengthAdjust="spacingAndGlyphs">2</text>
<text x="542.61" y="153.75" font-size="27" fill="#231F20" textLength="41.64" lengthAdjust="spacingAndGlyphs">SF1</text>
<text x="585.29" y="157.50" font-size="25" fill="#231F20" textLength="13.31" lengthAdjust="spacingAndGlyphs">3</text>
<text x="684.86" y="153.00" font-size="27" fill="#231F20" textLength="41.64" lengthAdjust="spacingAndGlyphs">SF1</text>
<text x="728.01" y="158.00" font-size="25" fill="#231F20" textLength="13.63" lengthAdjust="spacingAndGlyphs">4</text>
<text x="834.86" y="153.00" font-size="27" fill="#231F20" textLength="41.64" lengthAdjust="spacingAndGlyphs">SF1</text>
<text x="877.54" y="158.00" font-size="25" fill="#231F20" textLength="13.33" lengthAdjust="spacingAndGlyphs">5</text>
<text x="786.51" y="231.50" font-size="27.5" fill="#5C3F9C" textLength="191.44" lengthAdjust="spacingAndGlyphs">Rear pin purple</text>
<text x="1231.26" y="342.00" font-size="26.7" fill="#5C3F9C" textLength="166.18" lengthAdjust="spacingAndGlyphs">2150m = 28%</text>
<text x="920.00" y="391.30" font-size="27.5" fill="#3DB54F" textLength="182.10" lengthAdjust="spacingAndGlyphs">Rear pin green</text>
<text x="1261.46" y="421.70" font-size="26.7" fill="#3DB54F" textLength="138.54" lengthAdjust="spacingAndGlyphs">400m = 6%</text>
<text x="-0.84" y="391.25" font-size="27.5" fill="#231F20" textLength="77.20" lengthAdjust="spacingAndGlyphs">Step 2</text>
<text x="176.36" y="387.50" font-size="27" fill="#231F20" textLength="41.64" lengthAdjust="spacingAndGlyphs">SF1</text>
<text x="218.60" y="391.50" font-size="25" fill="#231F20" textLength="9.70" lengthAdjust="spacingAndGlyphs">1</text>
<text x="360.11" y="386.25" font-size="27" fill="#231F20" textLength="41.64" lengthAdjust="spacingAndGlyphs">SF1</text>
<text x="402.53" y="390.00" font-size="25" fill="#231F20" textLength="13.60" lengthAdjust="spacingAndGlyphs">2</text>
<text x="545.11" y="390.00" font-size="27" fill="#231F20" textLength="41.64" lengthAdjust="spacingAndGlyphs">SF1</text>
<text x="587.79" y="393.75" font-size="25" fill="#231F20" textLength="13.31" lengthAdjust="spacingAndGlyphs">3</text>
<text x="660.11" y="377.50" font-size="27" fill="#231F20" textLength="41.64" lengthAdjust="spacingAndGlyphs">SF1</text>
<text x="703.26" y="381.25" font-size="25" fill="#231F20" textLength="13.63" lengthAdjust="spacingAndGlyphs">4</text>
<text x="815.11" y="380.00" font-size="27" fill="#231F20" textLength="41.64" lengthAdjust="spacingAndGlyphs">SF1</text>
<text x="857.81" y="383.75" font-size="25" fill="#231F20" textLength="13.04" lengthAdjust="spacingAndGlyphs">5</text>
<text x="727.86" y="460.90" font-size="27.5" fill="#5C3F9C" textLength="191.19" lengthAdjust="spacingAndGlyphs">Rear pin purple</text>
<text x="1231.03" y="551.60" font-size="26.7" fill="#5C3F9C" textLength="169.32" lengthAdjust="spacingAndGlyphs">2600m = 34%</text>
<text x="1007.80" y="598.80" font-size="27.5" fill="#3DB54F" textLength="182.30" lengthAdjust="spacingAndGlyphs">Rear pin green</text>
<text x="1217.00" y="628.30" font-size="26.7" fill="#3DB54F" textLength="181.74" lengthAdjust="spacingAndGlyphs">–300m = 105%</text>
<text x="-0.82" y="606.25" font-size="27.5" fill="#231F20" textLength="76.41" lengthAdjust="spacingAndGlyphs">Step 3</text>
<text x="176.36" y="599.50" font-size="27" fill="#231F20" textLength="41.64" lengthAdjust="spacingAndGlyphs">SF1</text>
<text x="218.60" y="603.75" font-size="25" fill="#231F20" textLength="9.70" lengthAdjust="spacingAndGlyphs">1</text>
<text x="356.36" y="593.00" font-size="27" fill="#231F20" textLength="41.64" lengthAdjust="spacingAndGlyphs">SF1</text>
<text x="398.78" y="598.00" font-size="25" fill="#231F20" textLength="13.60" lengthAdjust="spacingAndGlyphs">2</text>
<text x="572.61" y="653.75" font-size="27" fill="#231F20" textLength="41.64" lengthAdjust="spacingAndGlyphs">SF1</text>
<text x="615.29" y="657.50" font-size="25" fill="#231F20" textLength="13.31" lengthAdjust="spacingAndGlyphs">3</text>
<text x="752.36" y="587.80" font-size="27" fill="#231F20" textLength="41.64" lengthAdjust="spacingAndGlyphs">SF1</text>
<text x="795.56" y="591.50" font-size="25" fill="#231F20" textLength="12.22" lengthAdjust="spacingAndGlyphs">4</text>
<text x="901.46" y="591.00" font-size="27" fill="#231F20" textLength="41.64" lengthAdjust="spacingAndGlyphs">SF1</text>
<text x="944.20" y="594.50" font-size="25" fill="#231F20" textLength="12.52" lengthAdjust="spacingAndGlyphs">5</text>
<text x="250.26" y="667.50" font-size="27.5" fill="#231F20" textLength="256.28" lengthAdjust="spacingAndGlyphs">Hydrodynamic shear</text>
<text x="632.67" y="685.80" font-size="27.5" fill="#5C3F9C" textLength="190.98" lengthAdjust="spacingAndGlyphs">Rear pin purple</text>
<text x="1231.70" y="763.90" font-size="26.7" fill="#5C3F9C" textLength="169.96" lengthAdjust="spacingAndGlyphs">3400m = 44%</text>
<text x="903.10" y="831.30" font-size="27.5" fill="#3DB54F" textLength="182.00" lengthAdjust="spacingAndGlyphs">Rear pin green</text>
<text x="1260.63" y="862.30" font-size="26.7" fill="#3DB54F" textLength="139.07" lengthAdjust="spacingAndGlyphs">600m = 9%</text>
<text x="-0.82" y="816.30" font-size="27.5" fill="#231F20" textLength="76.35" lengthAdjust="spacingAndGlyphs">Step 4</text>
<text x="164.86" y="816.30" font-size="27" fill="#231F20" textLength="41.64" lengthAdjust="spacingAndGlyphs">SF1</text>
<text x="207.03" y="820.20" font-size="25" fill="#231F20" textLength="10.22" lengthAdjust="spacingAndGlyphs">1</text>
<text x="241.36" y="767.90" font-size="27" fill="#231F20" textLength="41.64" lengthAdjust="spacingAndGlyphs">SF1</text>
<text x="283.76" y="771.80" font-size="25" fill="#231F20" textLength="13.79" lengthAdjust="spacingAndGlyphs">2</text>
<text x="490.86" y="891.25" font-size="27" fill="#231F20" textLength="41.64" lengthAdjust="spacingAndGlyphs">SF1</text>
<text x="533.65" y="895.00" font-size="25" fill="#231F20" textLength="11.84" lengthAdjust="spacingAndGlyphs">3</text>
<text x="633.86" y="816.25" font-size="27" fill="#231F20" textLength="41.64" lengthAdjust="spacingAndGlyphs">SF1</text>
<text x="677.01" y="820.00" font-size="25" fill="#231F20" textLength="13.63" lengthAdjust="spacingAndGlyphs">4</text>
<text x="802.61" y="819.50" font-size="27" fill="#231F20" textLength="41.64" lengthAdjust="spacingAndGlyphs">SF1</text>
<text x="845.27" y="823.00" font-size="25" fill="#231F20" textLength="13.62" lengthAdjust="spacingAndGlyphs">5</text>
<text x="152.12" y="922.10" font-size="27.5" fill="#3DB54F" textLength="193.34" lengthAdjust="spacingAndGlyphs">Front pin green</text>
<text x="0.19" y="955.00" font-size="27.5" fill="#5C3F9C" textLength="201.97" lengthAdjust="spacingAndGlyphs">Front pin purple</text>
<text x="1053.75" y="915.20" font-size="26.7" fill="#231F20" textLength="86.16" lengthAdjust="spacingAndGlyphs">1000m</text>
<text x="997.58" y="954.30" font-size="26.7" fill="#231F20" textLength="207.11" lengthAdjust="spacingAndGlyphs">5 x exaggeration</text>
</g>
</svg></body></html>
